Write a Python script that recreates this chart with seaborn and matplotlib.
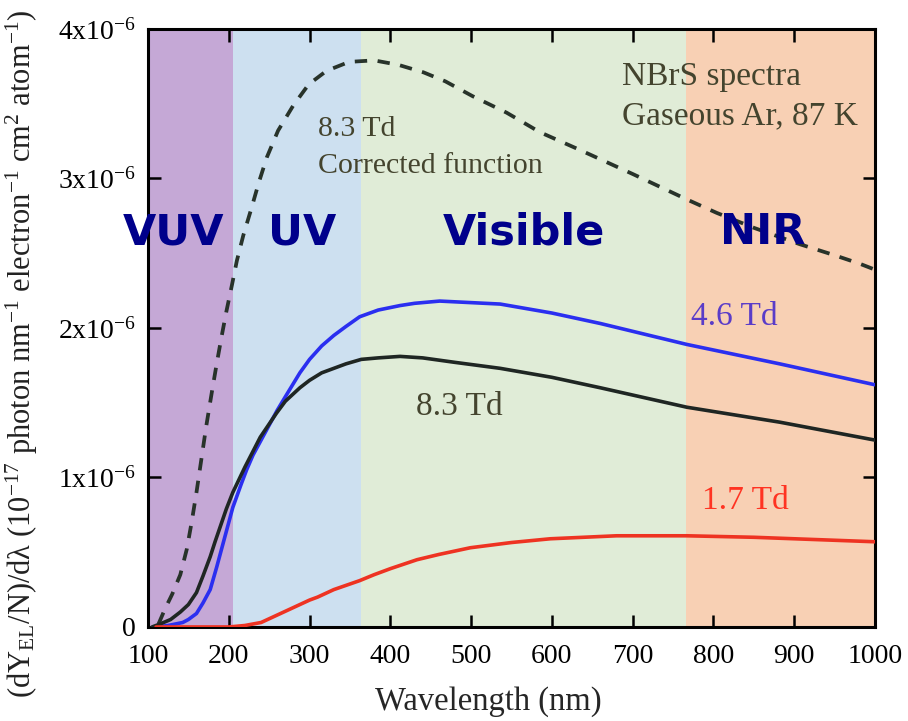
import matplotlib
matplotlib.use("Agg")
import matplotlib.pyplot as plt
import seaborn as sns

# wavelength (nm) / yield values (in units of 1e-6 as printed on the axis)
lam_corr = [113, 121, 130, 140, 148, 154, 160, 166, 172, 179, 185, 191, 197, 204, 210, 218,
            228, 237, 247, 261, 280, 299, 321, 349, 380, 410, 441, 468, 502, 544, 585, 635,
            700, 767, 804, 850, 907, 948, 981, 1000]
y_corr = [0.02, 0.12, 0.22, 0.35, 0.52, 0.70, 0.90, 1.12, 1.34, 1.57, 1.76, 1.94, 2.11, 2.29,
          2.45, 2.62, 2.80, 2.97, 3.14, 3.32, 3.49, 3.63, 3.72, 3.78, 3.79, 3.76, 3.71, 3.65,
          3.55, 3.44, 3.31, 3.19, 3.03, 2.86, 2.77, 2.67, 2.56, 2.49, 2.43, 2.39]

lam_46 = [110, 125, 143, 150, 160, 168, 177, 185, 193, 199, 205, 215, 222, 230, 242, 250,
          260, 270, 288, 300, 315, 330, 345, 362, 385, 412, 430, 461, 536, 600, 660, 767,
          882, 1000]
y_46 = [0.0, 0.01, 0.03, 0.05, 0.09, 0.16, 0.25, 0.40, 0.56, 0.68, 0.80, 0.95, 1.05, 1.15,
        1.27, 1.35, 1.45, 1.54, 1.70, 1.79, 1.88, 1.95, 2.01, 2.075, 2.12, 2.15, 2.165, 2.18,
        2.16, 2.10, 2.03, 1.89, 1.76, 1.62]

lam_83 = [105, 115, 128, 140, 150, 160, 168, 177, 183, 190, 197, 205, 220, 239, 259, 270,
          288, 300, 315, 330, 345, 364, 385, 412, 440, 480, 536, 600, 660, 767, 882, 1000]
y_83 = [0.0, 0.02, 0.05, 0.10, 0.15, 0.23, 0.34, 0.47, 0.57, 0.68, 0.79, 0.90, 1.07, 1.27,
        1.43, 1.51, 1.60, 1.65, 1.70, 1.73, 1.76, 1.79, 1.80, 1.81, 1.80, 1.77, 1.73, 1.67,
        1.60, 1.47, 1.37, 1.25]

lam_17 = [110, 200, 220, 240, 260, 280, 300, 310, 330, 362, 380, 400, 433, 460, 499, 550,
          598, 680, 767, 850, 1000]
y_17 = [0.0, 0.0, 0.01, 0.03, 0.08, 0.13, 0.18, 0.20, 0.25, 0.31, 0.35, 0.39, 0.45, 0.485,
        0.53, 0.565, 0.59, 0.61, 0.61, 0.60, 0.57]

band_names = ["VUV", "UV", "Visible", "NIR"]
band_edges = [100, 205, 364, 766, 1000]
band_colors = ["#c5a8d6", "#cde0f0", "#e0ecd7", "#f8d0b4"]
band_label_x = [131, 291, 565, 861]

x_ticks = [100, 200, 300, 400, 500, 600, 700, 800, 900, 1000]
y_ticks = [0, 1, 2, 3, 4]
y_tick_labels = ["0"] + [r"$\mathregular{%dx10^{-6}}$" % v for v in y_ticks[1:]]

sns.set_style("ticks")
plt.rcParams["font.family"] = ["Liberation Serif", "DejaVu Serif"]
plt.rcParams["mathtext.fontset"] = "custom"
plt.rcParams["mathtext.rm"] = "Liberation Serif"
plt.rcParams["mathtext.it"] = "Liberation Serif:italic"

fig = plt.figure(figsize=(9.08, 7.21), dpi=100)
ax = fig.add_axes([0.163, 0.1304, 0.8007, 0.8294])

for lo, hi, col in zip(band_edges[:-1], band_edges[1:], band_colors):
    ax.axvspan(lo, hi, color=col, lw=0, zorder=0)

sns.lineplot(x=lam_corr, y=y_corr, ax=ax, color="#28332a", linewidth=2.7,
             linestyle=(0, (3.3, 2.8)), zorder=3)
sns.lineplot(x=lam_46, y=y_46, ax=ax, color="#2b2ff0", linewidth=2.6, zorder=3)
sns.lineplot(x=lam_83, y=y_83, ax=ax, color="#1f2623", linewidth=2.6, zorder=3)
sns.lineplot(x=lam_17, y=y_17, ax=ax, color="#ee3322", linewidth=2.6, zorder=3)

for name, xc in zip(band_names, band_label_x):
    ax.text(xc, 2.64, name, ha="center", va="center", fontsize=31, fontweight="bold",
            color="#00008b", family="DejaVu Sans", clip_on=False)

txt = "#44442e"
ax.text(310, 3.287, "8.3 Td", fontsize=21.5, color=txt)
ax.text(310, 3.04, "Corrected function", fontsize=21.5, color=txt)
ax.text(687, 3.625, "NBrS spectra", fontsize=24, color=txt)
ax.text(687, 3.36, "Gaseous Ar, 87 K", fontsize=24, color=txt)
ax.text(772, 2.02, "4.6 Td", fontsize=24, color="#5a3cc8")
ax.text(432, 1.42, "8.3 Td", fontsize=24, color=txt)
ax.text(786, 0.79, "1.7 Td", fontsize=24, color="#ff3322")

ax.set_xlim(100, 1000)
ax.set_ylim(0, 4)
ax.set_xticks(x_ticks)
ax.set_yticks(y_ticks)
ax.set_yticklabels(y_tick_labels)
ax.tick_params(direction="in", length=9, width=1.8, labelsize=20, top=True, right=True,
               colors="black")
ax.tick_params(axis="x", pad=12)
ax.tick_params(axis="y", pad=9)
for sp in ax.spines.values():
    sp.set_visible(True)
    sp.set_linewidth(2.2)
    sp.set_color("black")
    sp.set_zorder(1)

ax.set_xlabel("Wavelength (nm)", fontsize=23.5)
ax.xaxis.set_label_coords(0.468, -0.099)
ax.set_ylabel(r"(dY$_{\mathregular{EL}}$/N)/dλ (10$^{\mathregular{-17}}$ photon nm$^{\mathregular{-1}}$"
              r" electron$^{\mathregular{-1}}$ cm$^{\mathregular{2}}$ atom$^{\mathregular{-1}}$)",
              fontsize=22, color="#222222")
ax.yaxis.set_label_coords(-0.148, 0.457)

fig.savefig("out.png", dpi=100)
